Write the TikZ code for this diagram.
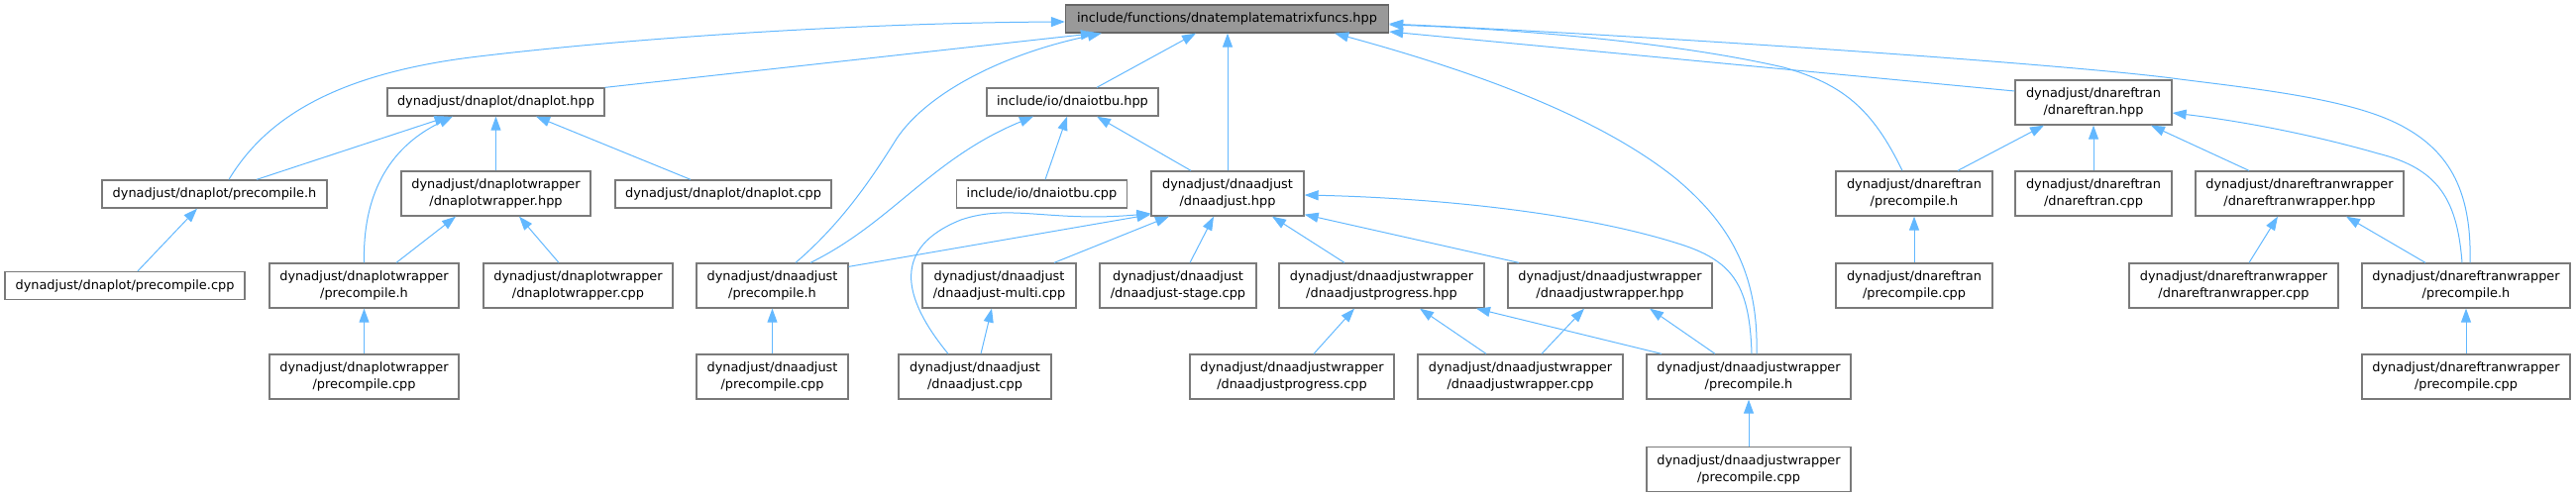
\documentclass[tikz,border=0pt]{standalone}
\usepackage{fontspec}
\setmainfont{DejaVu Sans}
\usetikzlibrary{arrows.meta,calc}
\definecolor{edgeblue}{HTML}{63B8FF}
\definecolor{boxgray}{HTML}{7A7A7A}
\definecolor{rootfill}{HTML}{999999}
\definecolor{rootdraw}{HTML}{666666}
\begin{document}
\begin{tikzpicture}[x=1pt,y=-1pt,
  fbox/.style={draw=boxgray, line width=1.3pt, fill=white, inner sep=0pt, align=center,
    font=\fontsize{12.9}{17}\selectfont, minimum height=28pt},
  two/.style={minimum height=45pt},
  rootbox/.style={fbox, fill=rootfill, draw=rootdraw},
  edge/.style={draw=edgeblue, line width=1pt, -{Triangle[length=14pt,width=10pt]}}
]
\useasboundingbox (0,0) rectangle (2600,502);

% row 1
\node[rootbox, minimum width=326pt] (root) at (1238.5,19) {include/functions/dnatemplatematrixfuncs.hpp};
% row 2
\node[fbox, minimum width=219pt] (dnaplothpp) at (500.5,103) {dynadjust/dnaplot/dnaplot.hpp};
\node[fbox, minimum width=173pt] (iotbuhpp) at (1082.5,103) {include/io/dnaiotbu.hpp};
\node[fbox, two, minimum width=158pt] (reftranhpp) at (2113,103.5) {dynadjust/dnareftran\\/dnareftran.hpp};
% row 3
\node[fbox, minimum width=227pt] (plotpre) at (216.5,196) {dynadjust/dnaplot/precompile.h};
\node[fbox, two, minimum width=191pt] (plotwrhpp) at (500.5,195.5) {dynadjust/dnaplotwrapper\\/dnaplotwrapper.hpp};
\node[fbox, minimum width=218pt] (plotcpp) at (730,196) {dynadjust/dnaplot/dnaplot.cpp};
\node[fbox, minimum width=172pt] (iotbucpp) at (1051.5,196) {include/io/dnaiotbu.cpp};
\node[fbox, two, minimum width=154pt] (adjhpp) at (1239,195.5) {dynadjust/dnaadjust\\/dnaadjust.hpp};
\node[fbox, two, minimum width=158pt] (reftranpre) at (1932,195.5) {dynadjust/dnareftran\\/precompile.h};
\node[fbox, two, minimum width=158pt] (reftrancpp) at (2113,195.5) {dynadjust/dnareftran\\/dnareftran.cpp};
\node[fbox, two, minimum width=210pt] (reftranwrhpp) at (2321,195.5) {dynadjust/dnareftranwrapper\\/dnareftranwrapper.hpp};
% row 4
\node[fbox, minimum width=242pt] (plotprecpp) at (126,288.5) {dynadjust/dnaplot/precompile.cpp};
\node[fbox, two, minimum width=191pt] (plotwrpre) at (367.5,288.5) {dynadjust/dnaplotwrapper\\/precompile.h};
\node[fbox, two, minimum width=191pt] (plotwrcpp) at (583.5,288.5) {dynadjust/dnaplotwrapper\\/dnaplotwrapper.cpp};
\node[fbox, two, minimum width=153pt] (adjpre) at (779.5,288.5) {dynadjust/dnaadjust\\/precompile.h};
\node[fbox, two, minimum width=155pt] (multicpp) at (1008.5,288.5) {dynadjust/dnaadjust\\/dnaadjust-multi.cpp};
\node[fbox, two, minimum width=158pt] (stagecpp) at (1189,288.5) {dynadjust/dnaadjust\\/dnaadjust-stage.cpp};
\node[fbox, two, minimum width=207pt] (proghpp) at (1394.5,288.5) {dynadjust/dnaadjustwrapper\\/dnaadjustprogress.hpp};
\node[fbox, two, minimum width=206pt] (wrhpp) at (1625,288.5) {dynadjust/dnaadjustwrapper\\/dnaadjustwrapper.hpp};
\node[fbox, two, minimum width=158pt] (reftranprecpp) at (1932,288.5) {dynadjust/dnareftran\\/precompile.cpp};
\node[fbox, two, minimum width=211pt] (reftranwrcpp) at (2254.5,288.5) {dynadjust/dnareftranwrapper\\/dnareftranwrapper.cpp};
\node[fbox, two, minimum width=210pt] (reftranwrpre) at (2489,288.5) {dynadjust/dnareftranwrapper\\/precompile.h};
% row 5
\node[fbox, two, minimum width=191pt] (plotwrprecpp) at (367.5,380.5) {dynadjust/dnaplotwrapper\\/precompile.cpp};
\node[fbox, two, minimum width=153pt] (adjprecpp) at (779.5,380.5) {dynadjust/dnaadjust\\/precompile.cpp};
\node[fbox, two, minimum width=154pt] (adjcpp) at (984,380.5) {dynadjust/dnaadjust\\/dnaadjust.cpp};
\node[fbox, two, minimum width=206pt] (progcpp) at (1304,380.5) {dynadjust/dnaadjustwrapper\\/dnaadjustprogress.cpp};
\node[fbox, two, minimum width=207pt] (wrcpp) at (1534.5,380.5) {dynadjust/dnaadjustwrapper\\/dnaadjustwrapper.cpp};
\node[fbox, two, minimum width=206pt] (awpre) at (1765,380.5) {dynadjust/dnaadjustwrapper\\/precompile.h};
\node[fbox, two, minimum width=210pt] (reftranwrprecpp) at (2489,380.5) {dynadjust/dnareftranwrapper\\/precompile.cpp};
% row 6
\node[fbox, two, minimum width=206pt] (awprecpp) at (1765,474) {dynadjust/dnaadjustwrapper\\/precompile.cpp};

% edges to root
\draw[edge] ($(plotpre.north)+(14.5,0)$) .. controls (265,125) and (330,75) .. (483,57)
  .. controls (650,37) and (880,23) .. ($(root.west)+(0,3)$);
\draw[edge] (dnaplothpp.north east) -- ($(root.south west)+(30,0)$);
\draw[edge] ($(adjpre.north)+(23.5,0)$) .. controls (850,225) and (880,180) .. (905,140)
  .. controls (935,95) and (1010,55) .. ($(root.south west)+(37,0)$);
\draw[edge] ($(iotbuhpp.north)+(24.5,0)$) -- ($(root.south)+(-31.5,0)$);
\draw[edge] (adjhpp.north) -- (adjhpp.north |- root.south);
\draw[edge] ($(reftranhpp.west)+(0,-11.5)$) -- ($(root.east)+(0,13)$);
\draw[edge] ($(reftranpre.north)+(-12,0)$) .. controls (1890,110) and (1860,85) .. (1800,68)
  .. controls (1700,45) and (1550,30) .. ($(root.east)+(0,6)$);
\draw[edge] ($(reftranwrpre.north)+(4,0)$) .. controls (2495,190) and (2470,150) .. (2420,125)
  .. controls (2370,100) and (2280,90) .. (2200,80)
  .. controls (2100,66) and (1700,38) .. ($(root.east)+(0,5)$);
\draw[edge] ($(awpre.north)+(8,0)$) .. controls (1775,275) and (1745,225) .. (1691,180)
  .. controls (1610,115) and (1480,70) .. ($(root.south east)+(-55,0)$);

% edges to dnaplot.hpp
\draw[edge] ($(plotpre.north)+(42.5,0)$) -- ($(dnaplothpp.south)+(-48,0)$);
\draw[edge] (plotwrpre.north) .. controls (366,200) and (390,150) .. ($(dnaplothpp.south)+(-43.5,0)$);
\draw[edge] (plotwrhpp.north) -- (dnaplothpp.south);
\draw[edge] ($(plotcpp.north)+(-33,0)$) -- ($(dnaplothpp.south)+(40.5,0)$);
\draw[edge] ($(plotprecpp.north)+(13,0)$) -- ($(plotpre.south)+(-17.5,0)$);
\draw[edge] ($(plotwrpre.north)+(32.5,0)$) -- ($(plotwrhpp.south)+(-40.5,0)$);
\draw[edge] ($(plotwrcpp.north)+(-19.5,0)$) -- ($(plotwrhpp.south)+(23.5,0)$);
\draw[edge] (plotwrprecpp.north) -- (plotwrpre.south);

% edges to dnaiotbu.hpp
\draw[edge] ($(adjpre.north)+(38.5,0)$) .. controls (900,225) and (940,160) .. ($(iotbuhpp.south)+(-39.5,0)$);
\draw[edge] ($(iotbucpp.north)+(3.5,0)$) -- ($(iotbuhpp.south)+(-5.5,0)$);
\draw[edge] ($(adjhpp.north)+(-37,0)$) -- ($(iotbuhpp.south)+(24.5,0)$);

% edges to dnaadjust.hpp
\draw[edge] ($(adjpre.north east)+(0,4)$) -- ($(adjhpp.south west)+(0,-2)$);
\draw[edge] ($(adjcpp.north)+(-27,0)$) .. controls (910,300) and (900,250) .. (970,222)
  .. controls (1020,205) and (1060,225) .. ($(adjhpp.south west)+(0,-3)$);
\draw[edge] ($(multicpp.north)+(55.5,0)$) -- ($(adjhpp.south)+(-59,0)$);
\draw[edge] ($(stagecpp.north)+(12,0)$) -- ($(adjhpp.south)+(-14,0)$);
\draw[edge] ($(proghpp.north)+(-37.5,0)$) -- ($(adjhpp.south)+(45,0)$);
\draw[edge] ($(wrhpp.north)+(-92,0)$) -- ($(adjhpp.south east)+(0,-2)$);
\draw[edge] ($(awpre.north)+(3,0)$) .. controls (1766,290) and (1750,265) .. (1700,248)
  .. controls (1600,215) and (1450,200) .. ($(adjhpp.east)+(0,1.5)$);
\draw[edge] (adjprecpp.north) -- (adjpre.south);
\draw[edge] ($(adjcpp.north)+(6,0)$) -- ($(multicpp.south)+(-7.5,0)$);

% dnaadjustwrapper
\draw[edge] ($(progcpp.north)+(22,0)$) -- ($(proghpp.south)+(-27.5,0)$);
\draw[edge] ($(wrcpp.north)+(-34.5,0)$) -- ($(proghpp.south)+(38.5,0)$);
\draw[edge] ($(awpre.north)+(-88,0)$) -- ($(proghpp.south)+(95.5,0)$);
\draw[edge] ($(wrcpp.north)+(21.5,0)$) -- ($(wrhpp.south)+(-26,0)$);
\draw[edge] ($(awpre.north)+(-34,0)$) -- ($(wrhpp.south)+(40,0)$);
\draw[edge] (awprecpp.north) -- (awpre.south);

% dnareftran
\draw[edge] ($(reftranpre.north)+(44,0)$) -- ($(reftranhpp.south)+(-50,0)$);
\draw[edge] (reftrancpp.north) -- (reftranhpp.south);
\draw[edge] ($(reftranwrhpp.north)+(-51,0)$) -- ($(reftranhpp.south)+(58,0)$);
\draw[edge] ($(reftranwrpre.north)+(-4,0)$) .. controls (2480,200) and (2460,170) .. (2400,155)
  .. controls (2330,135) and (2260,122) .. ($(reftranhpp.east)+(0,10.5)$);
\draw[edge] (reftranprecpp.north) -- (reftranpre.south);
\draw[edge] ($(reftranwrcpp.north)+(15.5,0)$) -- ($(reftranwrhpp.south)+(-22,0)$);
\draw[edge] ($(reftranwrpre.north)+(-41,0)$) -- ($(reftranwrhpp.south)+(47,0)$);
\draw[edge] (reftranwrprecpp.north) -- (reftranwrpre.south);
\end{tikzpicture}
\end{document}
